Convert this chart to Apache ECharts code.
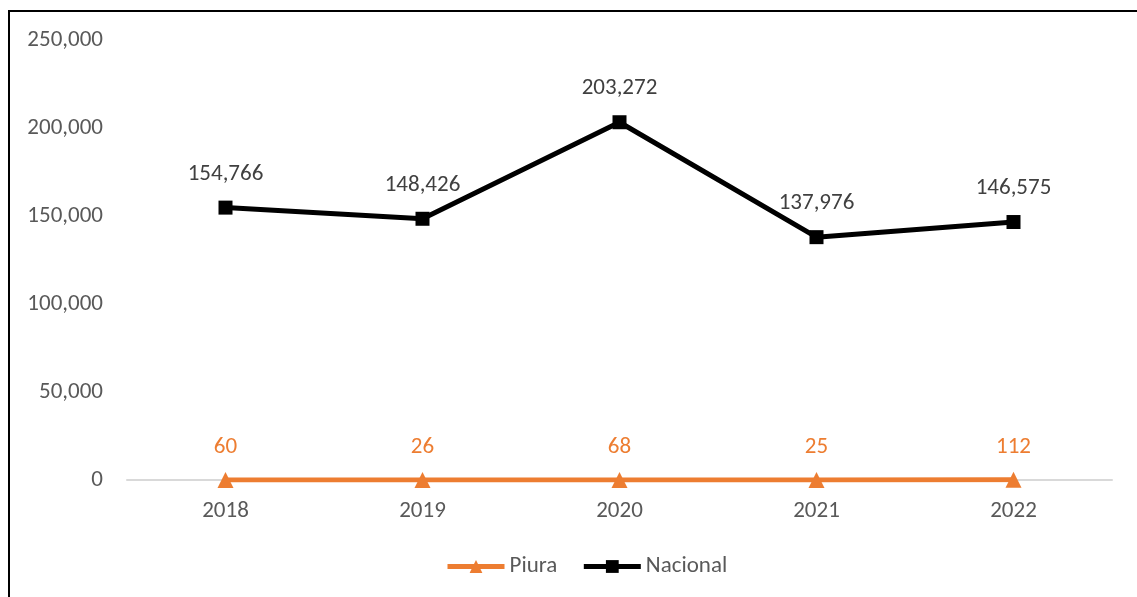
<!DOCTYPE html>
<html>
<head>
<meta charset="utf-8">
<script src="https://cdn.jsdelivr.net/npm/echarts@6/dist/echarts.min.js"></script>
<style>
  html, body { margin: 0; padding: 0; background: #fff; }
  #frame { position: absolute; left: 8px; top: 10px; width: 1200px; height: 700px; border: 2px solid #000; box-sizing: border-box; }
  #chart { position: absolute; left: 0; top: 0; width: 1137px; height: 597px; }
</style>
</head>
<body>
<div id="frame"></div>
<div id="chart"></div>
<script>
const years = ['2018', '2019', '2020', '2021', '2022']
const piura = [60, 26, 68, 25, 112]
const nacional = [154766, 148426, 203272, 137976, 146575]

const fmt = (v) => v.toLocaleString('en-US')
const font = 'Calibri, Carlito, Lato, sans-serif'

const chart = echarts.init(document.getElementById('chart'))
chart.setOption({
  animation: false,
  textStyle: { fontFamily: font },
  grid: { left: 127, right: 25, top: 40, bottom: 117 },
  legend: {
    top: 550,
    left: 440,
    itemWidth: 57,
    itemHeight: 16,
    itemGap: 24,
    lineStyle: { width: 5 },
    textStyle: { fontSize: 23, color: '#595959', fontFamily: font },
    data: ['Piura', 'Nacional'],
  },
  xAxis: {
    type: 'category',
    data: years,
    axisTick: { show: false },
    axisLine: { lineStyle: { color: '#d9d9d9', width: 2 } },
    axisLabel: { fontSize: 23, color: '#595959', margin: 20 },
  },
  yAxis: {
    type: 'value',
    min: 0,
    max: 250000,
    interval: 50000,
    splitLine: { show: false },
    axisLine: { show: false },
    axisLabel: { fontSize: 23, color: '#595959', margin: 24, formatter: (v) => fmt(v) },
  },
  series: [
    {
      name: 'Piura',
      type: 'line',
      data: piura,
      symbol: 'triangle',
      symbolSize: 16,
      itemStyle: { color: '#ED7D31' },
      lineStyle: { width: 5, color: '#ED7D31' },
      label: { show: true, position: 'top', distance: 13, fontSize: 23, color: '#ED7D31', formatter: (p) => fmt(p.value) },
    },
    {
      name: 'Nacional',
      type: 'line',
      data: nacional,
      symbol: 'rect',
      symbolSize: 14,
      itemStyle: { color: '#000' },
      lineStyle: { width: 5, color: '#000' },
      label: { show: true, position: 'top', distance: 15, fontSize: 23, color: '#404040', formatter: (p) => fmt(p.value) },
    },
  ],
})
</script>
</body>
</html>
